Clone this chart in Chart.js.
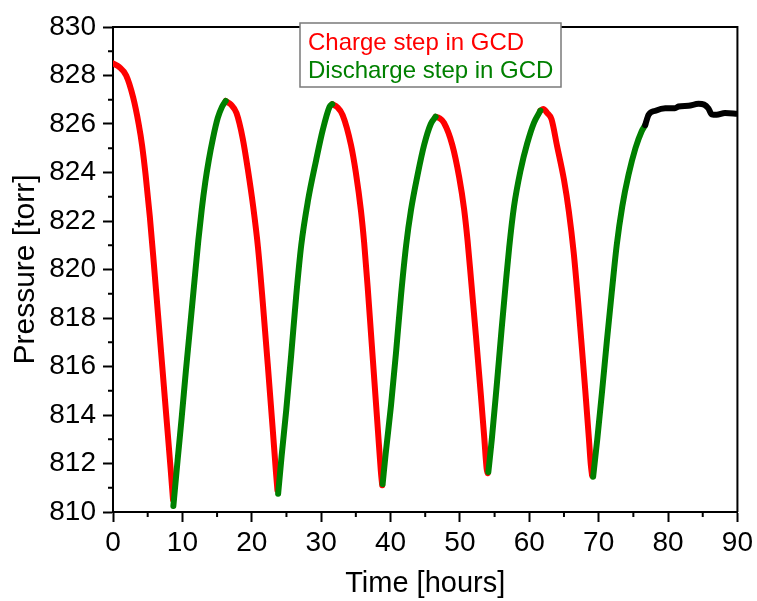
<!DOCTYPE html>
<html>
<head>
<meta charset="utf-8">
<script src="https://cdn.jsdelivr.net/npm/chart.js@4/dist/chart.umd.min.js"></script>
<style>
  html, body { margin: 0; padding: 0; background: #fff; }
  #wrap { width: 757px; height: 601px; }
</style>
</head>
<body>
<div id="wrap"><canvas id="gcd"></canvas></div>
<script>
// Data (time in hours, pressure in torr); null = gap between steps
const chargeTime = [
  0, 0.9, 1.9, 2.9, 3.7, 4.2, 4.7, 5.3, 5.9, 6.5, 7.1, 7.7, 8.3, 8.65, null,
  16.25, 17.0, 17.8, 18.7, 19.45, 20.2, 20.9, 21.6, 22.3, 23.0, 23.5, 23.7, null,
  31.6, 32.3, 33.1, 34.3, 35.0, 35.75, 36.2, 36.7, 37.2, 37.7, 38.2, 38.6, 38.8, null,
  46.5, 47.0, 47.7, 48.9, 49.9, 50.6, 51.1, 51.6, 52.3, 53.0, 53.5, 53.85, 54.0, null,
  61.6, 62.0, 62.6, 63.2, 64.0, 65.0, 65.7, 66.4, 67.0, 67.6, 68.1, 68.6, 68.85, 69.05
];
const chargePressure = [
  828.5, 828.35, 828.0, 827.1, 826.0, 825.1, 823.9, 822.2, 820.2, 818.1, 816.0, 813.9, 811.8, 810.5, null,
  826.95, 826.8, 826.45, 825.4, 824.1, 822.6, 820.9, 818.6, 816.1, 813.5, 811.6, 810.9, null,
  826.82, 826.7, 826.37, 825.14, 824.0, 822.4, 821.1, 819.3, 817.3, 815.3, 813.3, 811.7, 811.1, null,
  826.3, 826.25, 826.05, 825.14, 823.8, 822.5, 821.2, 819.6, 817.3, 814.9, 813.1, 811.8, 811.6, null,
  826.55, 826.62, 826.45, 826.2, 825.1, 823.7, 822.4, 820.7, 818.8, 816.7, 814.9, 813.0, 812.0, 811.5
];

const dischargeTime = [
  8.7, 9.3, 9.9, 10.5, 11.1, 11.7, 12.3, 12.8, 13.3, 13.8, 14.4, 15.1, 15.7, 16.25, null,
  23.8, 24.3, 24.97, 25.69, 26.4, 27.13, 28.08, 29.28, 30.23, 31.2, 31.6, null,
  38.86, 39.3, 40.07, 40.8, 41.5, 42.25, 42.95, 43.9, 44.85, 45.8, 46.5, null,
  54.1, 54.6, 55.3, 56.0, 56.6, 57.1, 57.8, 58.75, 59.7, 60.67, 61.6, null,
  69.2, 69.8, 70.5, 71.2, 71.9, 72.6, 73.4, 74.3, 75.3, 76.2, 76.7
];
const dischargePressure = [
  810.25, 812.1, 813.9, 815.8, 817.6, 819.4, 821.2, 822.5, 823.6, 824.5, 825.4, 826.25, 826.7, 826.95, null,
  810.75, 812.3, 814.2, 816.5, 818.9, 821.0, 822.8, 824.51, 825.75, 826.7, 826.82, null,
  811.15, 812.4, 814.4, 816.6, 818.9, 821.0, 822.45, 823.9, 825.14, 826.0, 826.3, null,
  811.65, 813.0, 815.2, 817.5, 819.4, 820.9, 822.6, 824.1, 825.2, 826.05, 826.55, null,
  811.45, 813.0, 815.0, 817.1, 819.1, 821.0, 822.6, 823.9, 825.0, 825.7, 825.95
];

const restTime = [76.7, 77.2, 78.2, 79.6, 81.0, 81.5, 82.95, 84.4, 85.2, 85.8, 86.3, 87.0, 88.2, 90.0];
const restPressure = [825.95, 826.38, 826.55, 826.65, 826.65, 826.72, 826.75, 826.83, 826.8, 826.65, 826.4, 826.38, 826.45, 826.42];

const legendLabels = ['Charge step in GCD', 'Discharge step in GCD'];
const xTitle = 'Time [hours]';
const yTitle = 'Pressure [torr]';

const FONT = "'Liberation Sans', Arial, sans-serif";

function toPoints(xs, ys) {
  return xs.map((x, i) => (x === null ? { x: NaN, y: null } : { x: x, y: ys[i] }));
}

// minor ticks halfway between the major ones, the top/right frame and the legend box
const framePlugin = {
  id: 'frame',
  afterDraw(chart) {
    const ctx = chart.ctx;
    const a = chart.chartArea;
    const xs = chart.scales.x, ys = chart.scales.y;
    ctx.save();
    ctx.strokeStyle = '#000';
    ctx.lineWidth = 2;
    ctx.beginPath();
    ctx.moveTo(a.left, a.top);
    ctx.lineTo(a.right, a.top);
    ctx.lineTo(a.right, a.bottom);
    ctx.stroke();

    ctx.beginPath();
    for (let i = 0; i < xs.ticks.length - 1; i++) {
      const px = xs.getPixelForValue((xs.ticks[i].value + xs.ticks[i + 1].value) / 2);
      ctx.moveTo(px, a.bottom);
      ctx.lineTo(px, a.bottom + 5);
    }
    for (let i = 0; i < ys.ticks.length - 1; i++) {
      const py = ys.getPixelForValue((ys.ticks[i].value + ys.ticks[i + 1].value) / 2);
      ctx.moveTo(a.left, py);
      ctx.lineTo(a.left - 5, py);
    }
    ctx.stroke();

    const o = chart.options.plugins.frame;
    ctx.fillStyle = '#fff';
    ctx.fillRect(o.x, o.y, o.w, o.h);
    ctx.strokeStyle = '#7a7a7a';
    ctx.lineWidth = 1.5;
    ctx.strokeRect(o.x, o.y, o.w, o.h);
    ctx.font = '24px ' + FONT;
    ctx.textBaseline = 'alphabetic';
    chart.data.datasets.slice(0, 2).forEach((ds, i) => {
      ctx.fillStyle = ds.borderColor;
      ctx.fillText(ds.label, o.x + 8, o.y + 27 + i * 28.3);
    });
    ctx.restore();
  }
};

const lineStyle = {
  pointRadius: 0,
  borderWidth: 6,
  borderCapStyle: 'round',
  borderJoinStyle: 'round',
  cubicInterpolationMode: 'monotone',
  spanGaps: false,
  showLine: true
};

new Chart(document.getElementById('gcd'), {
  type: 'scatter',
  data: {
    datasets: [
      Object.assign({ label: legendLabels[0], data: toPoints(chargeTime, chargePressure), borderColor: '#ff0000', backgroundColor: '#ff0000', order: 3 }, lineStyle),
      Object.assign({ label: legendLabels[1], data: toPoints(dischargeTime, dischargePressure), borderColor: '#008000', backgroundColor: '#008000', order: 2 }, lineStyle),
      Object.assign({ label: 'rest', data: toPoints(restTime, restPressure), borderColor: '#000000', backgroundColor: '#000000', order: 1 }, lineStyle)
    ]
  },
  options: {
    responsive: true,
    maintainAspectRatio: false,
    animation: false,
    layout: { padding: { top: 27, right: 18, left: 0, bottom: 0 } },
    plugins: {
      legend: { display: false },
      tooltip: { enabled: false },
      frame: { x: 300, y: 23, w: 261, h: 64 }
    },
    scales: {
      x: {
        type: 'linear',
        min: 0, max: 90,
        ticks: { stepSize: 10, color: '#000', font: { family: FONT, size: 28 }, padding: 4, maxRotation: 0 },
        grid: { drawOnChartArea: false, drawTicks: true, tickLength: 10, tickColor: '#000', tickWidth: 2 },
        border: { display: true, color: '#000', width: 2 },
        title: { display: true, text: xTitle, color: '#000', font: { family: FONT, size: 29 }, padding: 0 },
        afterFit(scale) { scale.height = 89; }
      },
      y: {
        type: 'linear',
        min: 810, max: 830,
        ticks: { stepSize: 2, color: '#000', font: { family: FONT, size: 28 }, padding: 7 },
        grid: { drawOnChartArea: false, drawTicks: true, tickLength: 10, tickColor: '#000', tickWidth: 2 },
        border: { display: true, color: '#000', width: 2 },
        title: { display: true, text: yTitle, color: '#000', font: { family: FONT, size: 30 }, padding: { top: 8, bottom: 0 } },
        afterFit(scale) { scale.width = 113; }
      }
    }
  },
  plugins: [framePlugin]
});
</script>
</body>
</html>
